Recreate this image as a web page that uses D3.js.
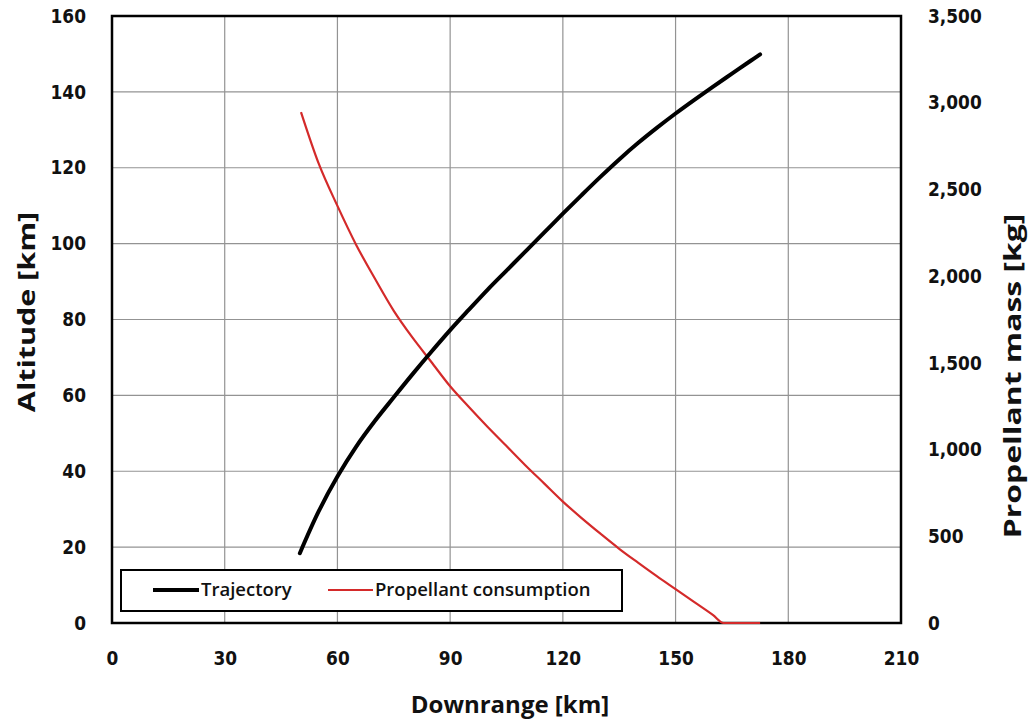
<!DOCTYPE html>
<html>
<head>
<meta charset="utf-8">
<script src="https://cdn.jsdelivr.net/npm/d3@7"></script>
<style>
  html, body { margin: 0; padding: 0; background: #fff; }
  svg { display: block; }
  .tick-label { font-family: "DejaVu Sans", sans-serif; font-weight: bold; font-size: 17px; fill: #111; }
  .axis-title { font-family: "Open Sans", sans-serif; font-weight: bold; font-size: 24px; fill: #111; }
  .legend-text { font-family: "Open Sans", sans-serif; font-weight: 600; font-size: 18.5px; fill: #111; }
</style>
</head>
<body>
<svg id="chart" width="1029" height="721"></svg>
<script>
// ---- Data ----
const trajectoryDownrange = [50, 55, 60, 65, 70, 75, 80, 85, 90, 95, 100, 105, 110, 115, 120, 125, 130, 135, 140, 145, 150, 155, 160, 165, 170, 172.5];
const trajectoryAltitude  = [18.4, 29.4, 38.6, 46.5, 53.3, 59.5, 65.6, 71.5, 77.2, 82.6, 87.9, 92.9, 97.9, 102.9, 107.9, 112.8, 117.6, 122.2, 126.5, 130.5, 134.3, 137.9, 141.4, 144.8, 148.2, 149.9];

const propellantDownrange = [50.3, 55, 60, 65, 70, 75, 80, 85, 90, 95, 100, 105, 110, 115, 120, 125, 130, 135, 140, 145, 150, 155, 160, 162.8, 172.5];
const propellantMass      = [2946, 2650, 2405, 2180, 1985, 1800, 1645, 1505, 1365, 1245, 1130, 1020, 910, 805, 700, 605, 515, 428, 348, 270, 195, 120, 45, 0, 0];

const xTicks = [0, 30, 60, 90, 120, 150, 180, 210];
const yLeftTicks = [0, 20, 40, 60, 80, 100, 120, 140, 160];
const yRightTicks = [0, 500, 1000, 1500, 2000, 2500, 3000, 3500];

const seriesNames = ["Trajectory", "Propellant consumption"];
const seriesColors = ["#000000", "#d42a2a"];

const xTitle = "Downrange [km]";
const yLeftTitle = "Altitude [km]";
const yRightTitle = "Propellant mass [kg]";

// ---- Layout ----
const svg = d3.select("#chart");
const plot = { left: 112, right: 901, top: 16, bottom: 623 };

const x = d3.scaleLinear().domain([0, 210]).range([plot.left, plot.right]);
const yL = d3.scaleLinear().domain([0, 160]).range([plot.bottom, plot.top]);
const yR = d3.scaleLinear().domain([0, 3500]).range([plot.bottom, plot.top]);

// Gridlines
const grid = svg.append("g");
grid.selectAll("line.v").data(xTicks.slice(1, -1)).enter().append("line")
  .attr("x1", d => x(d)).attr("x2", d => x(d))
  .attr("y1", plot.top).attr("y2", plot.bottom)
  .attr("stroke", "#939393").attr("stroke-width", 1.2);
grid.selectAll("line.h").data(yLeftTicks.slice(1, -1)).enter().append("line")
  .attr("x1", plot.left).attr("x2", plot.right)
  .attr("y1", d => yL(d)).attr("y2", d => yL(d))
  .attr("stroke", "#939393").attr("stroke-width", 1.2);

// Axes (labels via d3 axis generators)
const fmtComma = d3.format(",");
const axisB = svg.append("g").attr("transform", `translate(0,${plot.bottom})`)
  .call(d3.axisBottom(x).tickValues(xTicks).tickSize(0).tickPadding(24.5).tickFormat(d3.format("d")));
const axisL = svg.append("g").attr("transform", `translate(${plot.left},0)`)
  .call(d3.axisLeft(yL).tickValues(yLeftTicks).tickSize(0).tickPadding(26).tickFormat(d3.format("d")));
const axisR = svg.append("g").attr("transform", `translate(${plot.right},0)`)
  .call(d3.axisRight(yR).tickValues(yRightTicks).tickSize(0).tickPadding(27).tickFormat(fmtComma));
[axisB, axisL, axisR].forEach(a => {
  a.select(".domain").remove();
  a.selectAll("text").attr("class", "tick-label").attr("font-size", null).attr("font-family", null).attr("fill", null)
    .attr("transform", "scale(1,1.14)");
  a.attr("font-size", null).attr("font-family", null);
});

// Plot border
svg.append("rect")
  .attr("x", plot.left).attr("y", plot.top)
  .attr("width", plot.right - plot.left).attr("height", plot.bottom - plot.top)
  .attr("fill", "none").attr("stroke", "#000").attr("stroke-width", 2.5);

// Lines
const lineTraj = d3.line().x(d => x(d[0])).y(d => yL(d[1])).curve(d3.curveCatmullRom.alpha(0.5));
const lineProp = d3.line().x(d => x(d[0])).y(d => yR(d[1])).curve(d3.curveMonotoneX);

svg.append("path")
  .datum(propellantDownrange.map((d, i) => [d, propellantMass[i]]))
  .attr("d", lineProp).attr("fill", "none")
  .attr("stroke", seriesColors[1]).attr("stroke-width", 2.2);

svg.append("path")
  .datum(trajectoryDownrange.map((d, i) => [d, trajectoryAltitude[i]]))
  .attr("d", lineTraj).attr("fill", "none")
  .attr("stroke", seriesColors[0]).attr("stroke-width", 4).attr("stroke-linecap", "round");

// Legend
const lg = svg.append("g");
lg.append("rect").attr("x", 121).attr("y", 570).attr("width", 501).attr("height", 41)
  .attr("fill", "#fff").attr("stroke", "#000").attr("stroke-width", 2);
const legendItems = [
  { name: seriesNames[0], color: seriesColors[0], w: 4, x0: 153, x1: 199 },
  { name: seriesNames[1], color: seriesColors[1], w: 2.2, x0: 328, x1: 373 }
];
legendItems.forEach(it => {
  lg.append("line").attr("x1", it.x0).attr("x2", it.x1).attr("y1", 590).attr("y2", 590)
    .attr("stroke", it.color).attr("stroke-width", it.w);
  lg.append("text").attr("class", "legend-text").attr("x", it.x1 + 2).attr("y", 596).text(it.name);
});

// Axis titles
svg.append("text").attr("class", "axis-title").attr("x", 510).attr("y", 713)
  .attr("text-anchor", "middle").text(xTitle);
svg.append("text").attr("class", "axis-title").attr("text-anchor", "middle")
  .attr("transform", "translate(35,312) rotate(-90) scale(1.27,1)").text(yLeftTitle);
svg.append("text").attr("class", "axis-title").attr("text-anchor", "middle")
  .attr("transform", "translate(1021,376) rotate(-90) scale(1.33,1)").text(yRightTitle);
</script>
</body>
</html>
